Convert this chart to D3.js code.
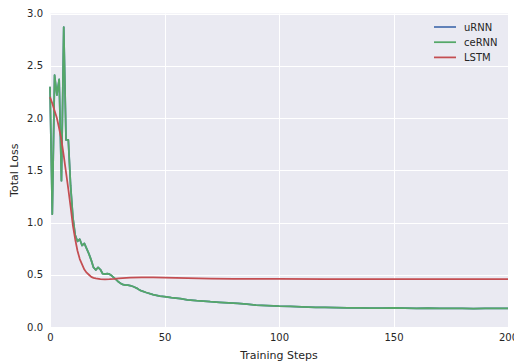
<!DOCTYPE html>
<html>
<head>
<meta charset="utf-8">
<script src="https://cdn.jsdelivr.net/npm/d3@7"></script>
<style>
  body { margin: 0; background: #fff; }
  text { font-family: "DejaVu Sans", sans-serif; fill: #262626; }
</style>
</head>
<body>
<div id="chart"></div>
<script>
// Training steps and loss
const ceSteps = [0, 1, 2, 3, 4, 5, 6, 7, 8, 9, 10, 11, 12, 13, 14, 15, 16, 17, 18, 19, 20,
    21, 22, 23, 24, 25, 26, 27, 28, 29, 30, 31, 32, 33, 34, 35, 36, 37, 38, 39, 40,
    42, 45, 48, 50, 53, 57, 60, 64, 67, 70, 74, 78, 82, 86, 90, 95, 100, 105, 110, 116,
    120, 125, 130, 135, 140, 145, 150, 155, 160, 165, 170, 175, 180, 185, 190, 195, 200];
const ceLoss = [2.30, 1.08, 2.41, 2.22, 2.37, 1.40, 2.87, 1.79, 1.79, 1.35, 1.05, 0.88, 0.82, 0.84, 0.78, 0.80, 0.75, 0.70, 0.64, 0.57, 0.545,
    0.57, 0.55, 0.51, 0.505, 0.51, 0.505, 0.49, 0.47, 0.45, 0.43, 0.415, 0.405, 0.40, 0.40, 0.395, 0.39, 0.38, 0.37, 0.355, 0.345,
    0.33, 0.31, 0.295, 0.29, 0.28, 0.272, 0.26, 0.252, 0.248, 0.242, 0.236, 0.23, 0.225, 0.218, 0.21, 0.205, 0.20, 0.198, 0.193, 0.188,
    0.187, 0.185, 0.183, 0.184, 0.181, 0.180, 0.182, 0.180, 0.179, 0.180, 0.178, 0.179, 0.178, 0.177, 0.179, 0.178, 0.179];
// uRNN sits right under ceRNN in the picture
const uLoss = ceLoss.slice();

const lstmSteps = [0, 1, 2, 3, 4, 5, 6, 7, 8, 9, 10, 11, 12, 13, 14, 15, 16, 17, 18, 19, 20,
    22, 24, 26, 28, 30, 35, 40, 45, 50, 55, 60, 70, 80, 100, 120, 150, 200];
const lstmLoss = [2.20, 2.14, 2.07, 2.00, 1.90, 1.79, 1.64, 1.48, 1.32, 1.15, 0.97, 0.84, 0.73, 0.65, 0.60, 0.55, 0.52, 0.50, 0.48, 0.47, 0.465,
    0.458, 0.456, 0.457, 0.460, 0.465, 0.472, 0.475, 0.475, 0.473, 0.470, 0.467, 0.463, 0.461, 0.46, 0.459, 0.459, 0.459];

const series = [
    {name: "uRNN", color: "#4C72B0", x: ceSteps, y: uLoss},
    {name: "ceRNN", color: "#55A868", x: ceSteps, y: ceLoss},
    {name: "LSTM", color: "#C44E52", x: lstmSteps, y: lstmLoss}
];

const xTicks = [0, 50, 100, 150, 200];
const yTicks = [0, 0.5, 1.0, 1.5, 2.0, 2.5, 3.0];

const width = 514, height = 362;
const margin = {top: 13.5, right: 6, bottom: 35, left: 50};

const svg = d3.select("#chart").append("svg")
    .attr("width", width)
    .attr("height", height);

const x = d3.scaleLinear().domain([0, 200]).range([margin.left, width - margin.right]);
const y = d3.scaleLinear().domain([0, 3]).range([height - margin.bottom, margin.top]);

// Plot background
svg.append("rect")
    .attr("x", x(0))
    .attr("y", y(3))
    .attr("width", x(200) - x(0))
    .attr("height", y(0) - y(3))
    .attr("fill", "#EAEAF2");

// White grid
svg.append("g")
    .selectAll("line")
    .data(xTicks)
    .join("line")
    .attr("x1", d => Math.round(x(d)) + 0.5)
    .attr("x2", d => Math.round(x(d)) + 0.5)
    .attr("y1", y(0))
    .attr("y2", y(3))
    .attr("stroke", "#fff")
    .attr("stroke-width", 1);

svg.append("g")
    .selectAll("line")
    .data(yTicks)
    .join("line")
    .attr("x1", x(0))
    .attr("x2", x(200))
    .attr("y1", d => Math.round(y(d)) + 0.5)
    .attr("y2", d => Math.round(y(d)) + 0.5)
    .attr("stroke", "#fff")
    .attr("stroke-width", 1);

// Axes without domain lines or tick marks
const xAxis = svg.append("g")
    .attr("transform", `translate(0,${y(0)})`)
    .call(d3.axisBottom(x).tickValues(xTicks).tickFormat(d3.format("d")).tickSize(0).tickPadding(7));
const yAxis = svg.append("g")
    .attr("transform", `translate(${x(0)},0)`)
    .call(d3.axisLeft(y).tickValues(yTicks).tickFormat(d3.format(".1f")).tickSize(0).tickPadding(7));
[xAxis, yAxis].forEach(a => {
    a.select(".domain").remove();
    a.selectAll("text")
        .style("font-family", "'DejaVu Sans', sans-serif")
        .style("font-size", "10px")
        .attr("fill", "#262626");
});

// Axis titles
svg.append("text")
    .attr("x", (x(0) + x(200)) / 2)
    .attr("y", 359)
    .attr("text-anchor", "middle")
    .style("font-size", "11px")
    .text("Training Steps");

svg.append("text")
    .attr("transform", `translate(18,${(y(0) + y(3)) / 2}) rotate(-90)`)
    .attr("text-anchor", "middle")
    .style("font-size", "11px")
    .text("Total Loss");

// Lines
const line = d3.line()
    .x(d => x(d[0]))
    .y(d => y(d[1]));

svg.append("g")
    .selectAll("path")
    .data(series)
    .join("path")
    .attr("d", s => line(s.x.map((v, i) => [v, s.y[i]])))
    .attr("fill", "none")
    .attr("stroke", s => s.color)
    .attr("stroke-width", 1.75)
    .attr("stroke-linejoin", "round");

// Legend
const legend = svg.append("g")
    .selectAll("g")
    .data(series)
    .join("g")
    .attr("transform", (d, i) => `translate(434,${27 + i * 15.2})`);

legend.append("line")
    .attr("x1", 0)
    .attr("x2", 22)
    .attr("stroke", d => d.color)
    .attr("stroke-width", 1.75);

legend.append("text")
    .attr("x", 30)
    .attr("dy", "0.35em")
    .style("font-size", "10px")
    .text(d => d.name);
</script>
</body>
</html>
